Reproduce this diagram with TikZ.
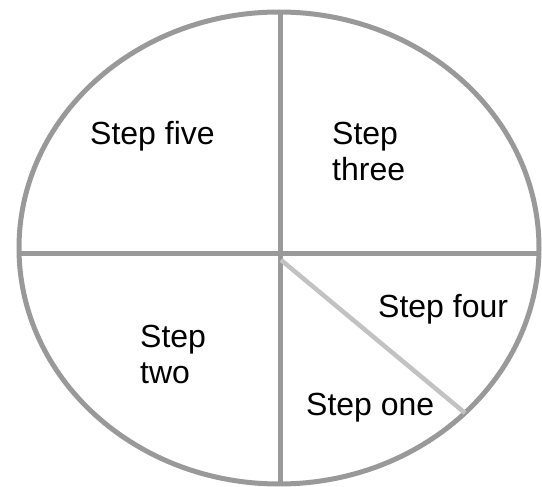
\documentclass[tikz,border=0pt]{standalone}
\usepackage{fontspec}
\setmainfont{Liberation Sans}
\usepackage{tikz}
\usetikzlibrary{calc}

\definecolor{rimgray}{HTML}{999999}
\definecolor{slashgray}{HTML}{C2C2C2}

\begin{document}
\begin{tikzpicture}[
			x=1pt,y=-1pt,
			rim/.style={draw=rimgray,line width=5pt},
			cut/.style={draw=rimgray,line width=5pt},
			slash/.style={draw=slashgray,line width=4.5pt},
			lbl/.style={inner sep=0pt,align=left,font=\fontsize{32}{36}\selectfont,text=black}]
			\useasboundingbox (0,0) rectangle (542,487);
			% frame of the wheel
			\coordinate (mid) at (279,248);
			\coordinate (top) at (280,12);
			\coordinate (bot) at (280,484);
			\coordinate (lft) at (19,254);
			\coordinate (rgt) at (539,254);
			\coordinate (hub) at (281,260);
			\coordinate (rimpt) at (465,413);
			\draw[rim] (mid) ellipse [x radius=260pt,y radius=236pt];
			\draw[cut] (top) -- (bot);
			\draw[cut] (lft) -- (rgt);
			\draw[slash] (hub) -- (rimpt);
			% step labels
			\node[lbl,anchor=base west] (five) at (90,145) {Step five};
			\node[lbl,anchor=base west] (three) at (332,181) {Step\\three};
			\node[lbl,anchor=base west] (four) at (378,317) {Step four};
			\node[lbl,anchor=base west] (two) at (140,383) {Step\\two};
			\node[lbl,anchor=base west] (one) at (306,415) {Step one};
		\end{tikzpicture}
\end{document}
